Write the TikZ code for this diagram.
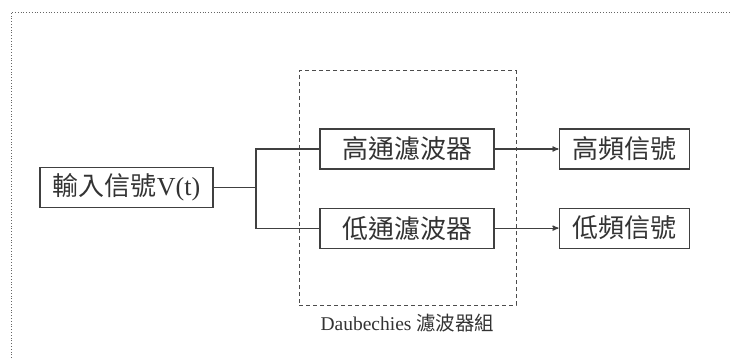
\documentclass[tikz,border=0pt]{standalone}
\usepackage{fontspec}
\setmainfont{Liberation Serif}
\newfontfamily\cjk{Noto Sans CJK TC}
\usepackage{tikz}
\usetikzlibrary{
        arrows,
        positioning
    }
\tikzset{>=stealth',shorten >=0pt,node distance=2cm}
\tikzset{block/.style={draw=black!75,line width=1.1pt,minimum height=40pt,inner sep=0pt,text=black!80,font=\fontsize{26}{30}\selectfont}}
\tikzset{wire/.style={draw=black!75,line width=1.1pt}}

\begin{document}
\begin{tikzpicture}[x=1pt,y=-1pt]
            \useasboundingbox (0,0) rectangle (730,358);
            \draw[black!60,dotted,line width=0.8pt] (11,358) -- (11,12) -- (730,12);
            \node[block,minimum width=173pt] (in) at (126.5,187.5) {{\cjk 輸入信號}V(t)};
            \node[block,minimum width=174pt] (hp) at (407,149) {\cjk 高通濾波器};
            \node[block,minimum width=174pt] (lp) [below=38pt of hp] {\cjk 低通濾波器};
            \node[block,minimum width=130pt] (hs) [right=64pt of hp] {\cjk 高頻信號};
            \node[block,minimum width=130pt] (ls) [right=64pt of lp] {\cjk 低頻信號};
            \node[draw=black!70,dashed,line width=1pt,dash pattern=on 4pt off 3pt,minimum width=217pt,minimum height=234pt] (bank) at (407.5,188) {};
            \node[text=black!80,font=\fontsize{19.5}{22}\selectfont] (banklabel) [below=5pt of bank] {Daubechies {\cjk 濾波器組}};
            \coordinate (split) at (256,187.5);
            \path[wire]
                (in) -- (split)
                (split) |- (hp)
                (split) |- (lp)
            ;
            \path[wire,->,line width=1.2pt]
                (hp) edge (hs)
                (lp) edge (ls)
            ;
        \end{tikzpicture}
\end{document}
